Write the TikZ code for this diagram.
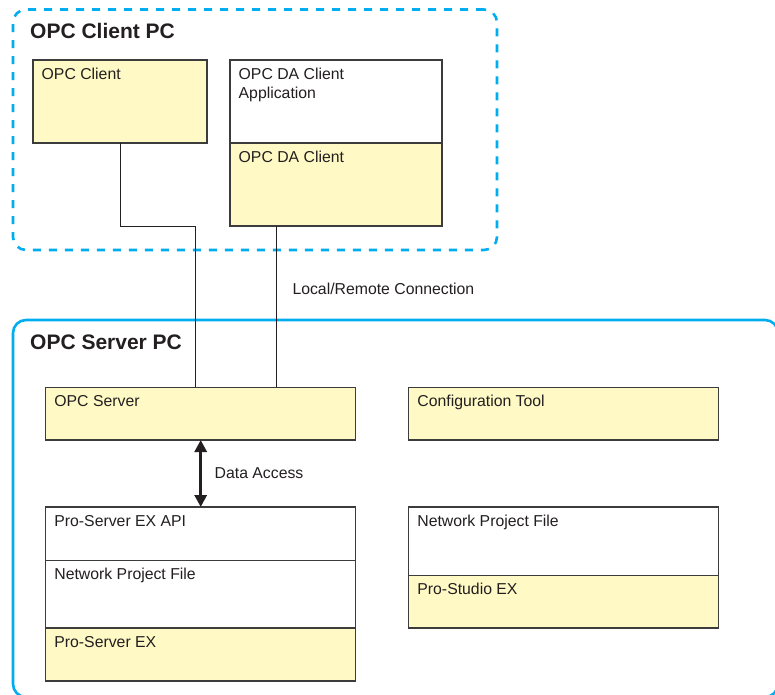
\documentclass[tikz,border=0pt]{standalone}
\usepackage{fontspec}
\setmainfont{Liberation Sans}
\usetikzlibrary{positioning,arrows.meta}
\definecolor{pccyan}{RGB}{0,173,239}
\definecolor{boxyellow}{RGB}{255,249,197}
\definecolor{inkgray}{RGB}{35,31,32}
\definecolor{edgegray}{RGB}{60,60,60}
\tikzset{
	pcbox/.style={draw=pccyan,line width=2.6pt,rounded corners=13pt,anchor=north west,inner sep=0pt,outer sep=0pt},
	pctitle/.style={anchor=base west,inner sep=0pt,text=inkgray,font=\fontsize{21}{25}\selectfont\bfseries},
	swbox/.style={draw=edgegray,line width=1.3pt,inner sep=0pt,outer sep=0pt},
	ybox/.style={swbox,fill=boxyellow},
	wbox/.style={swbox,fill=white},
	boxtext/.style={anchor=base west,inner sep=0pt,text=inkgray,align=left,font=\fontsize{15.8}{19}\selectfont},
	link/.style={draw=inkgray,line width=1pt},
	access/.style={<->,>={Triangle[length=12pt,width=12pt]},line width=3pt,draw=inkgray}
}

\begin{document}
\begin{tikzpicture}[x=1pt,y=-1pt]
	\clip (0,0) rectangle (775,694);
	% client side
	\node[pcbox,dash pattern=on 8pt off 8pt,minimum width=484pt,minimum height=240.5pt](clientpc) at (13,9.5){};
	\node[pctitle](clienttitle) at ([xshift=17pt,yshift=-29pt]clientpc.north west){OPC Client PC};
	\node[ybox,anchor=north west,minimum width=174pt,minimum height=83pt](opccl) at (33,60){};
	\node[boxtext](opccltxt) at ([xshift=8.5pt,yshift=-19.5pt]opccl.north west){OPC Client};
	\node[wbox,right = 23pt of opccl,minimum width=212pt,minimum height=83pt](daapp){};
	% base of a two-line node is its last line
	\node[boxtext](daapptxt) at ([xshift=8.5pt,yshift=-38.5pt]daapp.north west){OPC DA Client\\Application};
	\node[ybox,below = 0pt of daapp,minimum width=212pt,minimum height=83pt](dacl){};
	\node[boxtext](dacltxt) at ([xshift=8.5pt,yshift=-19.5pt]dacl.north west){OPC DA Client};
	% server side
	\node[pcbox,minimum width=765pt,minimum height=377pt](serverpc) at (13,320){};
	\node[pctitle](servertitle) at ([xshift=17pt,yshift=-29pt]serverpc.north west){OPC Server PC};
	\node[ybox,anchor=north west,minimum width=310pt,minimum height=52.7pt](opcsrv) at (45.7,387.3){};
	\node[boxtext](opcsrvtxt) at ([xshift=8.5pt,yshift=-19pt]opcsrv.north west){OPC Server};
	\node[ybox,right = 53pt of opcsrv,minimum width=310pt,minimum height=52.7pt](cfgtool){};
	\node[boxtext](cfgtooltxt) at ([xshift=8.5pt,yshift=-19pt]cfgtool.north west){Configuration Tool};
	\node[wbox,below = 67pt of opcsrv,minimum width=310pt,minimum height=53.3pt](api){};
	\node[boxtext](apitxt) at ([xshift=8.5pt,yshift=-19.5pt]api.north west){Pro-Server EX API};
	\node[wbox,below = 0pt of api,minimum width=310pt,minimum height=67.7pt](npfsrv){};
	\node[boxtext](npfsrvtxt) at ([xshift=8.5pt,yshift=-19.5pt]npfsrv.north west){Network Project File};
	\node[ybox,below = 0pt of npfsrv,minimum width=310pt,minimum height=53pt](proserver){};
	\node[boxtext](proservertxt) at ([xshift=8.5pt,yshift=-19.5pt]proserver.north west){Pro-Server EX};
	\node[wbox,below = 67pt of cfgtool,minimum width=310pt,minimum height=68.3pt](npfstudio){};
	\node[boxtext](npfstudiotxt) at ([xshift=8.5pt,yshift=-19.5pt]npfstudio.north west){Network Project File};
	\node[ybox,below = 0pt of npfstudio,minimum width=310pt,minimum height=52.7pt](prostudio){};
	\node[boxtext](prostudiotxt) at ([xshift=8.5pt,yshift=-19.5pt]prostudio.north west){Pro-Studio EX};
	% connections
	\draw[link] (opccl.south) -- (opccl.south |- dacl.south) -| ([xshift=150pt]opcsrv.north west);
	\draw[link] ([xshift=46pt]dacl.south west) coordinate (dafoot) -- (dafoot |- opcsrv.north)
		node[pos=0.39,boxtext,anchor=west,xshift=16pt](conntxt){Local/Remote Connection};
	\draw[access] (opcsrv.south) -- (api.north) node[midway,boxtext,anchor=west,xshift=12.5pt](accesstxt){Data Access};
\end{tikzpicture}
\end{document}
